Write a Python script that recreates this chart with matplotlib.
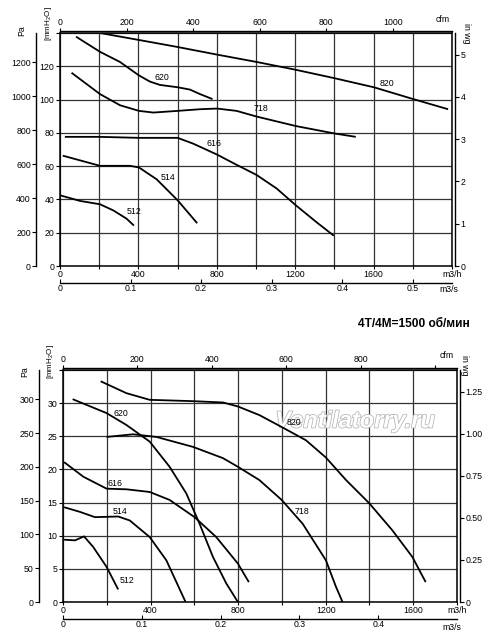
import numpy as np
import matplotlib
matplotlib.use('Agg')
import matplotlib.pyplot as plt
import matplotlib.patheffects as pe

plt.rcParams.update({
    'font.family': ['Liberation Sans', 'DejaVu Sans'],
    'font.size': 6.3,
    'mathtext.fontset': 'custom',
    'mathtext.rm': 'Liberation Sans',
})

W, H = 500, 644
PA_PER_MM = 9.80665
MM_PER_INWG = 25.4
M3H_PER_CFM = 1.699

# ---- upper chart (flow m3/h, pressure mmH2O) ----
TOP_Q_820 = [204, 408, 595, 802, 1003, 1203, 1402, 1601, 1802, 1980]
TOP_H_820 = [140.0, 135.7, 131.7, 127.0, 122.6, 117.9, 112.8, 107.4, 100.3, 94.2]
TOP_Q_620 = [82, 204, 306, 403, 459, 510, 600, 663, 714, 778]
TOP_H_620 = [137.8, 128.7, 122.6, 114.5, 110.8, 108.8, 107.4, 106.0, 103.3, 100.3]
TOP_Q_718 = [59, 204, 306, 403, 476, 600, 714, 802, 901, 1003, 1203, 1402, 1509]
TOP_H_718 = [116.1, 103.3, 96.6, 93.2, 92.2, 93.2, 94.2, 94.6, 93.2, 89.8, 84.1, 79.6, 77.6]
TOP_Q_616 = [25, 204, 403, 600, 680, 802, 901, 1003, 1105, 1203, 1309, 1397]
TOP_H_616 = [77.6, 77.6, 77.0, 77.0, 73.5, 66.9, 60.8, 54.7, 46.6, 36.5, 26.3, 18.2]
TOP_Q_514 = [14, 204, 357, 403, 493, 600, 700]
TOP_H_514 = [66.3, 60.2, 60.2, 59.2, 52.1, 39.5, 25.7]
TOP_Q_512 = [0, 102, 204, 272, 340, 377]
TOP_H_512 = [42.5, 39.1, 37.1, 33.4, 28.4, 24.3]

TOP_NAMES = ['820', '620', '718', '616', '514', '512']
TOP_LABEL_Q = [1666, 518, 1023, 785, 552, 377]
TOP_LABEL_H = [109.4, 113.3, 94.6, 73.9, 53.3, 32.8]

# ---- lower chart ----
BOT_Q_820 = [172, 290, 396, 594, 731, 799, 897, 999, 1110, 1201, 1293, 1399, 1505, 1596, 1657]
BOT_H_820 = [33.3, 31.5, 30.5, 30.3, 30.1, 29.5, 28.2, 26.4, 24.4, 21.8, 18.4, 14.9, 10.8, 6.8, 3.0]
BOT_Q_620 = [44, 199, 290, 396, 487, 563, 624, 685, 746, 799]
BOT_H_620 = [30.6, 28.5, 26.7, 24.2, 20.4, 16.4, 11.8, 6.8, 2.8, 0.0]
BOT_Q_718 = [199, 320, 427, 594, 731, 799, 897, 999, 1095, 1201, 1247, 1277]
BOT_H_718 = [24.9, 25.3, 24.9, 23.4, 21.7, 20.4, 18.4, 15.4, 11.8, 6.3, 2.3, 0.0]
BOT_Q_616 = [5, 93, 199, 290, 396, 487, 601, 700, 799, 849]
BOT_H_616 = [21.1, 18.9, 17.1, 17.0, 16.6, 15.4, 12.8, 9.8, 5.8, 3.0]
BOT_Q_514 = [5, 77, 146, 252, 305, 396, 472, 560]
BOT_H_514 = [14.3, 13.6, 12.8, 12.9, 12.3, 9.8, 6.3, 0.0]
BOT_Q_512 = [5, 55, 96, 138, 199, 252]
BOT_H_512 = [9.4, 9.3, 9.9, 8.3, 5.3, 1.9]

BOT_NAMES = ['820', '620', '718', '616', '514', '512']
BOT_LABEL_Q = [1057, 264, 1092, 237, 260, 293]
BOT_LABEL_H = [27.1, 28.5, 13.6, 17.9, 13.7, 3.3]

TITLE = '4T/4M=1500 об/мин'
WATERMARK = 'Ventilatorry.ru'


def px_rect(left, top, right, bottom):
    return [left / W, 1 - bottom / H, (right - left) / W, (bottom - top) / H]


def only_spine(ax, name):
    for k, s in ax.spines.items():
        s.set_visible(k == name)
    ax.spines[name].set_linewidth(1.0)


def draw_chart(fig, rect, qmax, hmax, hstep, pa_ticks, inwg_ticks, inwg_labels,
               cfm_ticks, cfm_labels, ms_ticks, ms_labels, curves, names, lab_q, lab_h):
    ax = fig.add_axes(rect)
    ax.set_xlim(0, qmax)
    ax.set_ylim(0, hmax)
    ax.set_axisbelow(True)

    xt = np.arange(0, qmax + 1, 200)
    ax.set_xticks(xt)
    ax.set_xticklabels(['m3/h' if q == qmax else (str(q) if q % 400 == 0 else '') for q in xt])
    yt = np.arange(0, hmax + 0.01, hstep)
    ax.set_yticks(yt)
    ax.set_yticklabels(['' if v >= hmax else f'{v:g}' for v in yt])
    ax.tick_params(axis='x', length=2, width=0.8, pad=1)
    ax.tick_params(axis='y', length=3, width=0.8, pad=1)
    ax.grid(True, color='#333333', linewidth=0.9)
    for s in ax.spines.values():
        s.set_linewidth(1.1)

    for (q, h) in curves:
        ax.plot(q, h, color='black', linewidth=1.3, zorder=3,
                solid_capstyle='butt', solid_joinstyle='round')
    for name, x, y in zip(names, lab_q, lab_h):
        ax.text(x, y, name, ha='center', va='center', fontsize=6.3, zorder=4)

    # Pa on an offset left axis
    axp = ax.twinx()
    only_spine(axp, 'left')
    axp.spines['left'].set_position(('outward', 17))
    axp.yaxis.set_ticks_position('left')
    axp.set_ylim(0, hmax * PA_PER_MM)
    axp.set_yticks(pa_ticks)
    axp.set_yticklabels([str(v) for v in pa_ticks])
    axp.tick_params(axis='y', length=3, width=0.8, pad=1)

    # in wg on the right
    axi = ax.twinx()
    only_spine(axi, 'right')
    axi.spines['right'].set_position(('outward', 2.2))
    axi.set_ylim(0, hmax / MM_PER_INWG)
    axi.set_yticks(inwg_ticks)
    axi.set_yticklabels(inwg_labels)
    axi.tick_params(axis='y', length=3, width=0.8, pad=1)

    # cfm on top
    axc = ax.twiny()
    only_spine(axc, 'top')
    axc.spines['top'].set_position(('outward', 1.4))
    axc.set_xlim(0, qmax / M3H_PER_CFM)
    axc.set_xticks(cfm_ticks)
    axc.set_xticklabels(cfm_labels)
    axc.tick_params(axis='x', length=2, width=0.8, pad=1)

    # m3/s below
    axs = ax.twiny()
    axs.xaxis.set_ticks_position('bottom')
    only_spine(axs, 'bottom')
    axs.spines['bottom'].set_position(('outward', 12))
    axs.set_xlim(0, qmax / 3600)
    axs.set_xticks(ms_ticks)
    axs.set_xticklabels(ms_labels)
    axs.tick_params(axis='x', direction='in', length=3, width=0.8, pad=1)
    return ax


fig = plt.figure(figsize=(W / 100, H / 100), dpi=100)

top_curves = [(TOP_Q_820, TOP_H_820), (TOP_Q_620, TOP_H_620), (TOP_Q_718, TOP_H_718),
              (TOP_Q_616, TOP_H_616), (TOP_Q_514, TOP_H_514), (TOP_Q_512, TOP_H_512)]
ax1 = draw_chart(fig, px_rect(60, 33, 452, 266), 2000, 140, 20,
                 list(range(0, 1201, 200)), [0, 1, 2, 3, 4, 5], ['0', '1', '2', '3', '4', '5'],
                 [0, 200, 400, 600, 800, 1000], ['0', '200', '400', '600', '800', '1000'],
                 [0, 0.1, 0.2, 0.3, 0.4, 0.5], ['0', '0.1', '0.2', '0.3', '0.4', '0.5'],
                 top_curves, TOP_NAMES, TOP_LABEL_Q, TOP_LABEL_H)

bot_curves = [(BOT_Q_820, BOT_H_820), (BOT_Q_620, BOT_H_620), (BOT_Q_718, BOT_H_718),
              (BOT_Q_616, BOT_H_616), (BOT_Q_514, BOT_H_514), (BOT_Q_512, BOT_H_512)]
ax2 = draw_chart(fig, px_rect(63, 370, 457, 602), 1800, 35, 5,
                 list(range(0, 301, 50)), [0, 0.25, 0.5, 0.75, 1.0, 1.25],
                 ['0', '0.25', '0.50', '0.75', '1.00', '1.25'],
                 [0, 200, 400, 600, 800, 1000], ['0', '200', '400', '600', '800', ''],
                 [0, 0.1, 0.2, 0.3, 0.4], ['0', '0.1', '0.2', '0.3', '0.4'],
                 bot_curves, BOT_NAMES, BOT_LABEL_Q, BOT_LABEL_H)

# watermark: outlined letters sitting over the grid, under the curves
ax2.text(1335, 27.3, WATERMARK, ha='center', va='center', fontsize=17,
         fontweight='bold', style='italic', color='white', zorder=2,
         path_effects=[pe.Stroke(linewidth=1.1, foreground='#b4b4b4'), pe.Normal()])


def ftext(x, y, s, **kw):
    fig.text(x / W, 1 - y / H, s, **kw)


# axis captions (pixel positions)
ftext(22, 31, 'Pa', rotation=90, ha='center', va='center')
ftext(49, 24, '[mmH$_2$O]', rotation=90, ha='center', va='center', fontsize=5.8)
ftext(467, 33, 'in wg', rotation=270, ha='center', va='center')
ftext(443, 20, 'cfm', ha='center', va='center')
ftext(449, 290, 'm3/s', ha='center', va='center')

ftext(25, 372, 'Pa', rotation=90, ha='center', va='center')
ftext(50, 362, '[mmH$_2$O]', rotation=90, ha='center', va='center', fontsize=5.8)
ftext(465, 365, 'in wg', rotation=270, ha='center', va='center')
ftext(447, 356, 'cfm', ha='center', va='center')
ftext(452, 627, 'm3/s', ha='center', va='center')

ftext(470, 324, TITLE, ha='right', va='center', fontsize=8.6, fontweight='bold')

fig.savefig('out.png', dpi=100, facecolor='white')
